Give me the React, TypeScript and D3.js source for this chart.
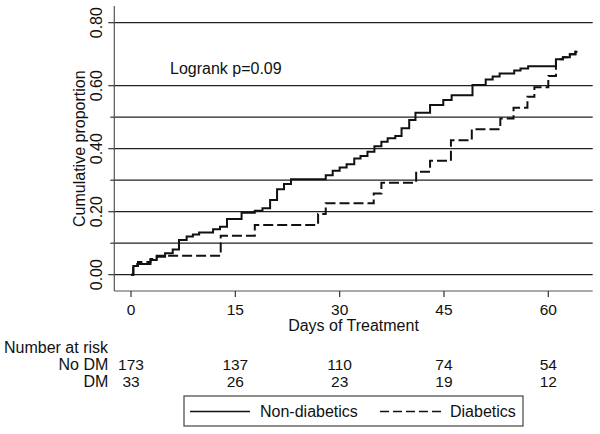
import React from "react";
import * as d3 from "d3";

// Kaplan–Meier style cumulative proportions: [day, value after step]
const nonDiabeticsSteps: [number, number][] = [
  [0, 0], [0.33, 0.028], [0.9, 0.034], [2.8, 0.047], [3.7, 0.057], [4.9, 0.068],
  [6.0, 0.08], [6.9, 0.11], [8.0, 0.121], [8.9, 0.128], [9.8, 0.134], [11.8, 0.144],
  [12.8, 0.152], [13.8, 0.177], [15.9, 0.197], [17.8, 0.203], [18.9, 0.211],
  [20.0, 0.237], [21.0, 0.271], [22.0, 0.288], [23.0, 0.303], [28.0, 0.316],
  [29.0, 0.33], [30.0, 0.34], [31.0, 0.351], [32.1, 0.369], [33.0, 0.377],
  [34.0, 0.39], [35.0, 0.408], [36.0, 0.422], [36.9, 0.433], [38.0, 0.44],
  [38.9, 0.465], [40.0, 0.491], [40.9, 0.514], [43.0, 0.539], [44.9, 0.555],
  [46.1, 0.57], [49.1, 0.602], [51.0, 0.62], [52.0, 0.629], [53.0, 0.639],
  [55.1, 0.648], [56.0, 0.655], [57.1, 0.662], [61.1, 0.684], [62.1, 0.69],
  [63.1, 0.7], [63.9, 0.708], [64.2, 0.708],
];

const diabeticsSteps: [number, number][] = [
  [0, 0], [0.33, 0.028], [1.0, 0.04], [2.8, 0.05], [3.7, 0.06], [12.9, 0.124],
  [17.8, 0.158], [26.9, 0.193], [28.0, 0.227], [34.9, 0.258], [36.0, 0.292],
  [41.0, 0.327], [43.0, 0.362], [46.0, 0.427], [49.0, 0.462], [53.1, 0.496],
  [55.0, 0.53], [57.0, 0.565], [58.0, 0.595], [60.0, 0.631], [61.1, 0.684],
  [62.1, 0.69], [63.1, 0.7], [63.9, 0.708], [64.2, 0.708],
];

const xTicks = [0, 15, 30, 45, 60];
const yMajorTicks = [0, 0.2, 0.4, 0.6, 0.8];
const yMinorTicks = [0.1, 0.3, 0.5];
const riskNoDM = [173, 137, 110, 74, 54];
const riskDM = [33, 26, 23, 19, 12];

const FONT = "'Liberation Sans', Arial, Helvetica, sans-serif";

export default function App() {
  const x = d3.scaleLinear().domain([0, 60]).range([131, 548.3]);
  const y = d3.scaleLinear().domain([0, 0.8]).range([274.7, 22.7]);
  const plotLeft = 114.3;
  const plotRight = 592.7;
  const plotTop = 6;
  const plotBottom = 291;

  const line = d3
    .line<[number, number]>()
    .x((d) => x(d[0]))
    .y((d) => y(d[1]))
    .curve(d3.curveStepAfter);

  return (
    <svg
      width={600}
      height={434}
      style={{ position: "absolute", left: 0, top: 0, background: "#fff" }}
      fontFamily={FONT}
    >
      <rect x={0} y={0} width={600} height={434} fill="#fff" />
      {/* grid lines */}
      {[...yMajorTicks, ...yMinorTicks].map((v) => (
        <line
          key={"g" + v}
          x1={plotLeft}
          x2={plotRight}
          y1={y(v)}
          y2={y(v)}
          stroke="#222"
          strokeWidth={1.3}
        />
      ))}
      {/* y axis */}
      <line x1={plotLeft} x2={plotLeft} y1={plotTop} y2={plotBottom} stroke="#555" strokeWidth={1.2} />
      {yMajorTicks.map((v) => (
        <line key={"yt" + v} x1={plotLeft - 6} x2={plotLeft} y1={y(v)} y2={y(v)} stroke="#333" strokeWidth={1.2} />
      ))}
      {yMinorTicks.map((v) => (
        <line key={"ym" + v} x1={plotLeft - 4} x2={plotLeft} y1={y(v)} y2={y(v)} stroke="#333" strokeWidth={1.2} />
      ))}
      {yMajorTicks.map((v) => (
        <text
          key={"yl" + v}
          transform={`translate(102, ${y(v)}) rotate(-90)`}
          textAnchor="middle"
          fontSize={16}
          fill="#111"
        >
          {v.toFixed(2)}
        </text>
      ))}
      <text
        transform={`translate(85, ${(y(0) + y(0.8)) / 2}) rotate(-90)`}
        textAnchor="middle"
        fontSize={16}
        fill="#111"
      >
        Cumulative proportion
      </text>
      {/* x axis */}
      <line x1={plotLeft} x2={plotRight} y1={plotBottom} y2={plotBottom} stroke="#555" strokeWidth={1.2} />
      {xTicks.map((t) => (
        <line key={"xt" + t} x1={x(t)} x2={x(t)} y1={plotBottom} y2={plotBottom + 6} stroke="#333" strokeWidth={1.2} />
      ))}
      {xTicks.map((t) => (
        <text key={"xl" + t} x={x(t)} y={315} textAnchor="middle" fontSize={15.5} fill="#111">
          {t}
        </text>
      ))}
      <text x={(plotLeft + plotRight) / 2} y={331} textAnchor="middle" fontSize={16} fill="#111">
        Days of Treatment
      </text>

      {/* curves */}
      <path d={line(nonDiabeticsSteps) ?? ""} fill="none" stroke="#111" strokeWidth={2} />
      <path
        d={line(diabeticsSteps) ?? ""}
        fill="none"
        stroke="#111"
        strokeWidth={2}
        strokeDasharray="10,4"
      />

      <text x={170} y={73.5} fontSize={16} fill="#111">
        Logrank p=0.09
      </text>

      {/* number at risk */}
      <text x={4} y={352.5} fontSize={16} fill="#111">
        Number at risk
      </text>
      <text x={108.3} y={370} textAnchor="end" fontSize={16} fill="#111">
        No DM
      </text>
      <text x={108.3} y={387.3} textAnchor="end" fontSize={16} fill="#111">
        DM
      </text>
      {riskNoDM.map((n, i) => (
        <text key={"rn" + i} x={x(xTicks[i])} y={370} textAnchor="middle" fontSize={15.5} fill="#111">
          {n}
        </text>
      ))}
      {riskDM.map((n, i) => (
        <text key={"rd" + i} x={x(xTicks[i])} y={387.3} textAnchor="middle" fontSize={15.5} fill="#111">
          {n}
        </text>
      ))}

      {/* legend */}
      <rect x={184} y={396} width={339} height={30} fill="none" stroke="#444" strokeWidth={1.2} />
      <line x1={190} x2={250} y1={411.5} y2={411.5} stroke="#111" strokeWidth={1.5} />
      <text x={260} y={417} fontSize={16} fill="#111">
        Non-diabetics
      </text>
      <line x1={380} x2={442} y1={411.5} y2={411.5} stroke="#111" strokeWidth={1.5} strokeDasharray="9,4" />
      <text x={450} y={417} fontSize={16} fill="#111">
        Diabetics
      </text>
    </svg>
  );
}
